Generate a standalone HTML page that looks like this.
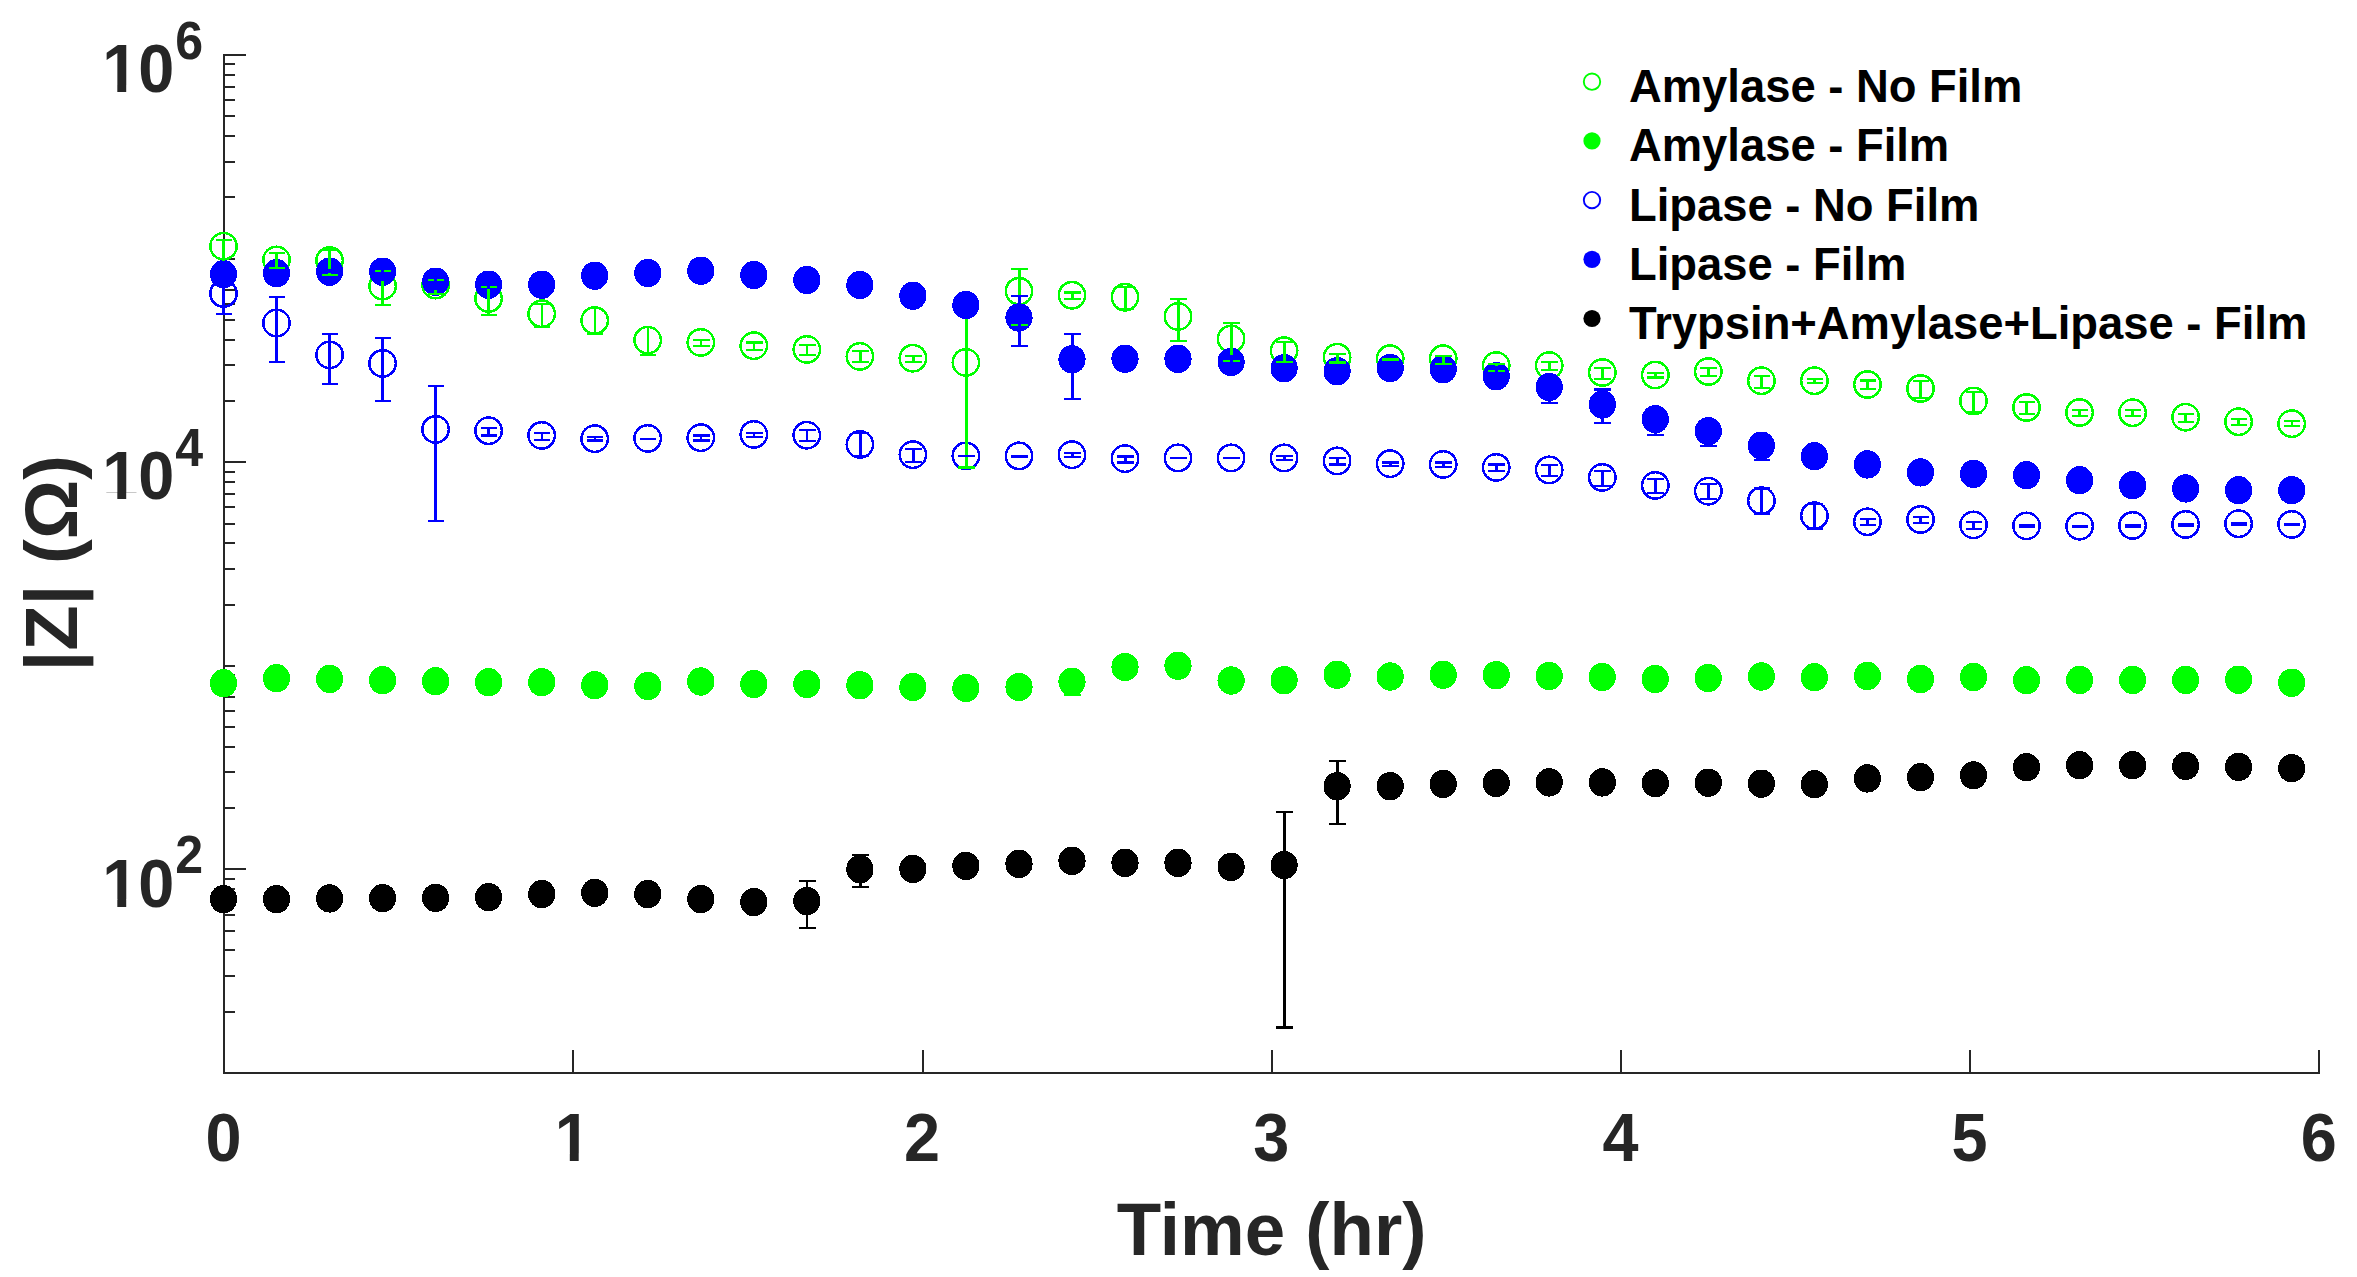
<!DOCTYPE html>
<html lang="en"><head><meta charset="utf-8"><title>|Z| vs Time</title>
<style>html,body{margin:0;padding:0;background:#fff}body{width:2357px;height:1277px;overflow:hidden}svg{display:block}</style></head>
<body>
<svg width="2357" height="1277" viewBox="0 0 2357 1277"><rect width="2357" height="1277" fill="#fff"/><g fill="#262626" stroke="none" shape-rendering="crispEdges"><rect x="223.1" y="54" width="2" height="1020.0"/><rect x="223.1" y="1072.0" width="2097.3" height="2"/><rect x="224.1" y="1072.0" width="11" height="2"/><rect x="224.1" y="1010.7" width="11" height="2"/><rect x="224.1" y="974.9" width="11" height="2"/><rect x="224.1" y="949.4" width="11" height="2"/><rect x="224.1" y="929.7" width="11" height="2"/><rect x="224.1" y="913.6" width="11" height="2"/><rect x="224.1" y="899.9" width="11" height="2"/><rect x="224.1" y="888.1" width="11" height="2"/><rect x="224.1" y="877.7" width="11" height="2"/><rect x="224.1" y="868.4" width="22" height="2"/><rect x="224.1" y="807.1" width="11" height="2"/><rect x="224.1" y="771.3" width="11" height="2"/><rect x="224.1" y="745.8" width="11" height="2"/><rect x="224.1" y="726.1" width="11" height="2"/><rect x="224.1" y="710.0" width="11" height="2"/><rect x="224.1" y="696.3" width="11" height="2"/><rect x="224.1" y="684.5" width="11" height="2"/><rect x="224.1" y="674.1" width="11" height="2"/><rect x="224.1" y="664.8" width="11" height="2"/><rect x="224.1" y="603.5" width="11" height="2"/><rect x="224.1" y="567.7" width="11" height="2"/><rect x="224.1" y="542.2" width="11" height="2"/><rect x="224.1" y="522.5" width="11" height="2"/><rect x="224.1" y="506.4" width="11" height="2"/><rect x="224.1" y="492.7" width="11" height="2"/><rect x="224.1" y="480.9" width="11" height="2"/><rect x="224.1" y="470.5" width="11" height="2"/><rect x="224.1" y="461.2" width="22" height="2"/><rect x="224.1" y="399.9" width="11" height="2"/><rect x="224.1" y="364.1" width="11" height="2"/><rect x="224.1" y="338.6" width="11" height="2"/><rect x="224.1" y="318.9" width="11" height="2"/><rect x="224.1" y="302.8" width="11" height="2"/><rect x="224.1" y="289.1" width="11" height="2"/><rect x="224.1" y="277.3" width="11" height="2"/><rect x="224.1" y="266.9" width="11" height="2"/><rect x="224.1" y="257.6" width="11" height="2"/><rect x="224.1" y="196.3" width="11" height="2"/><rect x="224.1" y="160.5" width="11" height="2"/><rect x="224.1" y="135.0" width="11" height="2"/><rect x="224.1" y="115.3" width="11" height="2"/><rect x="224.1" y="99.2" width="11" height="2"/><rect x="224.1" y="85.5" width="11" height="2"/><rect x="224.1" y="73.7" width="11" height="2"/><rect x="224.1" y="63.3" width="11" height="2"/><rect x="224.1" y="54.0" width="22" height="2"/><rect x="572.3" y="1050" width="2" height="23.0"/><rect x="921.5" y="1050" width="2" height="23.0"/><rect x="1270.8" y="1050" width="2" height="23.0"/><rect x="1620.0" y="1050" width="2" height="23.0"/><rect x="1969.2" y="1050" width="2" height="23.0"/><rect x="2318.4" y="1050" width="2" height="23.0"/></g><g shape-rendering="crispEdges"><g fill="none" stroke="#00ff00" stroke-width="2.5"><circle cx="223.5" cy="246.2" r="13.2"/><circle cx="276.5" cy="259.9" r="13.2"/><circle cx="329.6" cy="260.5" r="13.2"/><circle cx="382.6" cy="286.1" r="13.2"/><circle cx="435.6" cy="285.1" r="13.2"/><circle cx="488.6" cy="298.5" r="13.2"/><circle cx="541.7" cy="313.7" r="13.2"/><circle cx="594.7" cy="320.5" r="13.2"/><circle cx="647.7" cy="340.2" r="13.2"/><circle cx="700.8" cy="342.4" r="13.2"/><circle cx="753.8" cy="345.7" r="13.2"/><circle cx="806.8" cy="349.4" r="13.2"/><circle cx="859.9" cy="356.4" r="13.2"/><circle cx="912.9" cy="358.2" r="13.2"/><circle cx="965.9" cy="362.4" r="13.2"/><circle cx="1019.0" cy="291.2" r="13.2"/><circle cx="1072.0" cy="295.2" r="13.2"/><circle cx="1125.0" cy="297.2" r="13.2"/><circle cx="1178.0" cy="316.5" r="13.2"/><circle cx="1231.1" cy="338.9" r="13.2"/><circle cx="1284.1" cy="350.7" r="13.2"/><circle cx="1337.1" cy="357.2" r="13.2"/><circle cx="1390.2" cy="358.7" r="13.2"/><circle cx="1443.2" cy="358.7" r="13.2"/><circle cx="1496.2" cy="365.5" r="13.2"/><circle cx="1549.2" cy="365.5" r="13.2"/><circle cx="1602.3" cy="372.5" r="13.2"/><circle cx="1655.3" cy="375.0" r="13.2"/><circle cx="1708.3" cy="371.5" r="13.2"/><circle cx="1761.4" cy="380.7" r="13.2"/><circle cx="1814.4" cy="380.7" r="13.2"/><circle cx="1867.4" cy="384.5" r="13.2"/><circle cx="1920.5" cy="388.5" r="13.2"/><circle cx="1973.5" cy="401.0" r="13.2"/><circle cx="2026.5" cy="407.5" r="13.2"/><circle cx="2079.6" cy="412.5" r="13.2"/><circle cx="2132.6" cy="412.7" r="13.2"/><circle cx="2185.6" cy="417.2" r="13.2"/><circle cx="2238.6" cy="421.7" r="13.2"/><circle cx="2291.7" cy="423.7" r="13.2"/></g><g fill="#00ff00" stroke="none"><ellipse cx="223.5" cy="683.2" rx="13.6" ry="14.2"/><ellipse cx="276.5" cy="678.2" rx="13.6" ry="14.2"/><ellipse cx="329.6" cy="679.0" rx="13.6" ry="14.2"/><ellipse cx="382.6" cy="680.2" rx="13.6" ry="14.2"/><ellipse cx="435.6" cy="681.2" rx="13.6" ry="14.2"/><ellipse cx="488.6" cy="682.2" rx="13.6" ry="14.2"/><ellipse cx="541.7" cy="682.2" rx="13.6" ry="14.2"/><ellipse cx="594.7" cy="685.2" rx="13.6" ry="14.2"/><ellipse cx="647.7" cy="686.0" rx="13.6" ry="14.2"/><ellipse cx="700.8" cy="681.5" rx="13.6" ry="14.2"/><ellipse cx="753.8" cy="684.0" rx="13.6" ry="14.2"/><ellipse cx="806.8" cy="684.0" rx="13.6" ry="14.2"/><ellipse cx="859.9" cy="685.2" rx="13.6" ry="14.2"/><ellipse cx="912.9" cy="687.0" rx="13.6" ry="14.2"/><ellipse cx="965.9" cy="688.0" rx="13.6" ry="14.2"/><ellipse cx="1019.0" cy="687.0" rx="13.6" ry="14.2"/><ellipse cx="1072.0" cy="681.7" rx="13.6" ry="14.2"/><ellipse cx="1125.0" cy="667.0" rx="13.6" ry="14.2"/><ellipse cx="1178.0" cy="665.7" rx="13.6" ry="14.2"/><ellipse cx="1231.1" cy="680.5" rx="13.6" ry="14.2"/><ellipse cx="1284.1" cy="680.2" rx="13.6" ry="14.2"/><ellipse cx="1337.1" cy="674.7" rx="13.6" ry="14.2"/><ellipse cx="1390.2" cy="676.5" rx="13.6" ry="14.2"/><ellipse cx="1443.2" cy="674.7" rx="13.6" ry="14.2"/><ellipse cx="1496.2" cy="675.2" rx="13.6" ry="14.2"/><ellipse cx="1549.2" cy="676.0" rx="13.6" ry="14.2"/><ellipse cx="1602.3" cy="677.0" rx="13.6" ry="14.2"/><ellipse cx="1655.3" cy="679.0" rx="13.6" ry="14.2"/><ellipse cx="1708.3" cy="678.0" rx="13.6" ry="14.2"/><ellipse cx="1761.4" cy="676.5" rx="13.6" ry="14.2"/><ellipse cx="1814.4" cy="677.2" rx="13.6" ry="14.2"/><ellipse cx="1867.4" cy="676.0" rx="13.6" ry="14.2"/><ellipse cx="1920.5" cy="679.0" rx="13.6" ry="14.2"/><ellipse cx="1973.5" cy="677.0" rx="13.6" ry="14.2"/><ellipse cx="2026.5" cy="680.2" rx="13.6" ry="14.2"/><ellipse cx="2079.6" cy="680.0" rx="13.6" ry="14.2"/><ellipse cx="2132.6" cy="680.0" rx="13.6" ry="14.2"/><ellipse cx="2185.6" cy="680.0" rx="13.6" ry="14.2"/><ellipse cx="2238.6" cy="679.7" rx="13.6" ry="14.2"/><ellipse cx="2291.7" cy="682.7" rx="13.6" ry="14.2"/></g><g fill="none" stroke="#0000ff" stroke-width="2.5"><circle cx="223.5" cy="293.6" r="13.2"/><circle cx="276.5" cy="323.0" r="13.2"/><circle cx="329.6" cy="354.9" r="13.2"/><circle cx="382.6" cy="363.4" r="13.2"/><circle cx="435.6" cy="429.4" r="13.2"/><circle cx="488.6" cy="430.7" r="13.2"/><circle cx="541.7" cy="435.4" r="13.2"/><circle cx="594.7" cy="438.7" r="13.2"/><circle cx="647.7" cy="438.4" r="13.2"/><circle cx="700.8" cy="437.7" r="13.2"/><circle cx="753.8" cy="434.4" r="13.2"/><circle cx="806.8" cy="435.2" r="13.2"/><circle cx="859.9" cy="444.4" r="13.2"/><circle cx="912.9" cy="454.7" r="13.2"/><circle cx="965.9" cy="455.9" r="13.2"/><circle cx="1019.0" cy="455.9" r="13.2"/><circle cx="1072.0" cy="454.7" r="13.2"/><circle cx="1125.0" cy="458.6" r="13.2"/><circle cx="1178.0" cy="457.9" r="13.2"/><circle cx="1231.1" cy="457.9" r="13.2"/><circle cx="1284.1" cy="457.9" r="13.2"/><circle cx="1337.1" cy="460.9" r="13.2"/><circle cx="1390.2" cy="463.7" r="13.2"/><circle cx="1443.2" cy="464.4" r="13.2"/><circle cx="1496.2" cy="467.4" r="13.2"/><circle cx="1549.2" cy="469.9" r="13.2"/><circle cx="1602.3" cy="477.4" r="13.2"/><circle cx="1655.3" cy="485.4" r="13.2"/><circle cx="1708.3" cy="491.2" r="13.2"/><circle cx="1761.4" cy="500.7" r="13.2"/><circle cx="1814.4" cy="515.7" r="13.2"/><circle cx="1867.4" cy="521.7" r="13.2"/><circle cx="1920.5" cy="519.4" r="13.2"/><circle cx="1973.5" cy="524.9" r="13.2"/><circle cx="2026.5" cy="525.9" r="13.2"/><circle cx="2079.6" cy="526.2" r="13.2"/><circle cx="2132.6" cy="525.4" r="13.2"/><circle cx="2185.6" cy="524.4" r="13.2"/><circle cx="2238.6" cy="523.7" r="13.2"/><circle cx="2291.7" cy="524.4" r="13.2"/></g><g fill="#0000ff" stroke="none"><ellipse cx="223.5" cy="274.2" rx="13.6" ry="14.2"/><ellipse cx="276.5" cy="273.2" rx="13.6" ry="14.2"/><ellipse cx="329.6" cy="271.7" rx="13.6" ry="14.2"/><ellipse cx="382.6" cy="271.7" rx="13.6" ry="14.2"/><ellipse cx="435.6" cy="281.7" rx="13.6" ry="14.2"/><ellipse cx="488.6" cy="284.7" rx="13.6" ry="14.2"/><ellipse cx="541.7" cy="284.7" rx="13.6" ry="14.2"/><ellipse cx="594.7" cy="275.7" rx="13.6" ry="14.2"/><ellipse cx="647.7" cy="273.0" rx="13.6" ry="14.2"/><ellipse cx="700.8" cy="270.7" rx="13.6" ry="14.2"/><ellipse cx="753.8" cy="275.0" rx="13.6" ry="14.2"/><ellipse cx="806.8" cy="280.0" rx="13.6" ry="14.2"/><ellipse cx="859.9" cy="285.0" rx="13.6" ry="14.2"/><ellipse cx="912.9" cy="295.7" rx="13.6" ry="14.2"/><ellipse cx="965.9" cy="305.0" rx="13.6" ry="14.2"/><ellipse cx="1019.0" cy="317.5" rx="13.6" ry="14.2"/><ellipse cx="1072.0" cy="359.4" rx="13.6" ry="14.2"/><ellipse cx="1125.0" cy="358.7" rx="13.6" ry="14.2"/><ellipse cx="1178.0" cy="358.9" rx="13.6" ry="14.2"/><ellipse cx="1231.1" cy="361.9" rx="13.6" ry="14.2"/><ellipse cx="1284.1" cy="368.2" rx="13.6" ry="14.2"/><ellipse cx="1337.1" cy="371.2" rx="13.6" ry="14.2"/><ellipse cx="1390.2" cy="368.0" rx="13.6" ry="14.2"/><ellipse cx="1443.2" cy="369.2" rx="13.6" ry="14.2"/><ellipse cx="1496.2" cy="376.2" rx="13.6" ry="14.2"/><ellipse cx="1549.2" cy="387.0" rx="13.6" ry="14.2"/><ellipse cx="1602.3" cy="404.5" rx="13.6" ry="14.2"/><ellipse cx="1655.3" cy="419.2" rx="13.6" ry="14.2"/><ellipse cx="1708.3" cy="431.2" rx="13.6" ry="14.2"/><ellipse cx="1761.4" cy="445.7" rx="13.6" ry="14.2"/><ellipse cx="1814.4" cy="456.2" rx="13.6" ry="14.2"/><ellipse cx="1867.4" cy="464.4" rx="13.6" ry="14.2"/><ellipse cx="1920.5" cy="472.4" rx="13.6" ry="14.2"/><ellipse cx="1973.5" cy="473.9" rx="13.6" ry="14.2"/><ellipse cx="2026.5" cy="475.2" rx="13.6" ry="14.2"/><ellipse cx="2079.6" cy="480.2" rx="13.6" ry="14.2"/><ellipse cx="2132.6" cy="485.2" rx="13.6" ry="14.2"/><ellipse cx="2185.6" cy="488.4" rx="13.6" ry="14.2"/><ellipse cx="2238.6" cy="490.2" rx="13.6" ry="14.2"/><ellipse cx="2291.7" cy="490.2" rx="13.6" ry="14.2"/></g><g fill="#000000" stroke="none"><ellipse cx="223.5" cy="899.1" rx="13.6" ry="14.2"/><ellipse cx="276.5" cy="899.1" rx="13.6" ry="14.2"/><ellipse cx="329.6" cy="898.4" rx="13.6" ry="14.2"/><ellipse cx="382.6" cy="898.1" rx="13.6" ry="14.2"/><ellipse cx="435.6" cy="897.9" rx="13.6" ry="14.2"/><ellipse cx="488.6" cy="897.1" rx="13.6" ry="14.2"/><ellipse cx="541.7" cy="894.1" rx="13.6" ry="14.2"/><ellipse cx="594.7" cy="892.9" rx="13.6" ry="14.2"/><ellipse cx="647.7" cy="894.1" rx="13.6" ry="14.2"/><ellipse cx="700.8" cy="899.1" rx="13.6" ry="14.2"/><ellipse cx="753.8" cy="902.1" rx="13.6" ry="14.2"/><ellipse cx="806.8" cy="901.1" rx="13.6" ry="14.2"/><ellipse cx="859.9" cy="869.2" rx="13.6" ry="14.2"/><ellipse cx="912.9" cy="868.9" rx="13.6" ry="14.2"/><ellipse cx="965.9" cy="865.9" rx="13.6" ry="14.2"/><ellipse cx="1019.0" cy="863.9" rx="13.6" ry="14.2"/><ellipse cx="1072.0" cy="860.9" rx="13.6" ry="14.2"/><ellipse cx="1125.0" cy="862.9" rx="13.6" ry="14.2"/><ellipse cx="1178.0" cy="862.9" rx="13.6" ry="14.2"/><ellipse cx="1231.1" cy="866.9" rx="13.6" ry="14.2"/><ellipse cx="1284.1" cy="865.1" rx="13.6" ry="14.2"/><ellipse cx="1337.1" cy="786.2" rx="13.6" ry="14.2"/><ellipse cx="1390.2" cy="786.2" rx="13.6" ry="14.2"/><ellipse cx="1443.2" cy="783.9" rx="13.6" ry="14.2"/><ellipse cx="1496.2" cy="782.9" rx="13.6" ry="14.2"/><ellipse cx="1549.2" cy="782.4" rx="13.6" ry="14.2"/><ellipse cx="1602.3" cy="782.4" rx="13.6" ry="14.2"/><ellipse cx="1655.3" cy="783.2" rx="13.6" ry="14.2"/><ellipse cx="1708.3" cy="782.7" rx="13.6" ry="14.2"/><ellipse cx="1761.4" cy="783.7" rx="13.6" ry="14.2"/><ellipse cx="1814.4" cy="784.2" rx="13.6" ry="14.2"/><ellipse cx="1867.4" cy="778.4" rx="13.6" ry="14.2"/><ellipse cx="1920.5" cy="777.2" rx="13.6" ry="14.2"/><ellipse cx="1973.5" cy="775.2" rx="13.6" ry="14.2"/><ellipse cx="2026.5" cy="767.2" rx="13.6" ry="14.2"/><ellipse cx="2079.6" cy="765.2" rx="13.6" ry="14.2"/><ellipse cx="2132.6" cy="765.2" rx="13.6" ry="14.2"/><ellipse cx="2185.6" cy="765.9" rx="13.6" ry="14.2"/><ellipse cx="2238.6" cy="766.9" rx="13.6" ry="14.2"/><ellipse cx="2291.7" cy="768.2" rx="13.6" ry="14.2"/></g><g fill="#00ff00" stroke="none"><rect x="222.30" y="240.0" width="2.8" height="20.7"/><rect x="215.60" y="238.85" width="16.6" height="2.3"/><rect x="275.30" y="253.2" width="2.8" height="15.0"/><rect x="268.60" y="252.05" width="16.6" height="2.3"/><rect x="268.60" y="267.05" width="16.6" height="2.3"/><rect x="328.40" y="249.5" width="2.8" height="25.5"/><rect x="321.70" y="248.35" width="16.6" height="2.3"/><rect x="321.70" y="273.85" width="16.6" height="2.3"/><rect x="381.40" y="271.2" width="2.8" height="33.8"/><rect x="374.70" y="270.05" width="16.6" height="2.3"/><rect x="374.70" y="303.85" width="16.6" height="2.3"/><rect x="434.40" y="280.0" width="2.8" height="13.8"/><rect x="427.70" y="278.85" width="16.6" height="2.3"/><rect x="427.70" y="292.65" width="16.6" height="2.3"/><rect x="487.40" y="286.7" width="2.8" height="28.3"/><rect x="480.70" y="285.55" width="16.6" height="2.3"/><rect x="480.70" y="313.85" width="16.6" height="2.3"/><rect x="540.50" y="303.7" width="2.8" height="23.3"/><rect x="533.80" y="302.55" width="16.6" height="2.3"/><rect x="533.80" y="325.85" width="16.6" height="2.3"/><rect x="593.50" y="307.5" width="2.8" height="26.2"/><rect x="586.80" y="332.55" width="16.6" height="2.3"/><rect x="646.50" y="327.5" width="2.8" height="27.4"/><rect x="639.80" y="353.75" width="16.6" height="2.3"/><rect x="699.60" y="339.9" width="2.8" height="6.3"/><rect x="692.90" y="338.75" width="16.6" height="2.3"/><rect x="692.90" y="345.05" width="16.6" height="2.3"/><rect x="752.60" y="342.4" width="2.8" height="7.5"/><rect x="745.90" y="341.25" width="16.6" height="2.3"/><rect x="745.90" y="348.75" width="16.6" height="2.3"/><rect x="805.60" y="344.9" width="2.8" height="10.0"/><rect x="798.90" y="343.75" width="16.6" height="2.3"/><rect x="798.90" y="353.75" width="16.6" height="2.3"/><rect x="858.70" y="351.2" width="2.8" height="10.7"/><rect x="852.00" y="350.05" width="16.6" height="2.3"/><rect x="852.00" y="360.75" width="16.6" height="2.3"/><rect x="911.70" y="355.7" width="2.8" height="6.0"/><rect x="905.00" y="354.55" width="16.6" height="2.3"/><rect x="905.00" y="360.55" width="16.6" height="2.3"/><rect x="964.70" y="318.7" width="2.8" height="148.7"/><rect x="958.00" y="466.25" width="16.6" height="2.3"/><rect x="1017.80" y="268.7" width="2.8" height="56.3"/><rect x="1011.10" y="267.55" width="16.6" height="2.3"/><rect x="1011.10" y="323.85" width="16.6" height="2.3"/><rect x="1070.80" y="292.5" width="2.8" height="6.2"/><rect x="1064.10" y="291.35" width="16.6" height="2.3"/><rect x="1064.10" y="297.55" width="16.6" height="2.3"/><rect x="1123.80" y="287.0" width="2.8" height="21.7"/><rect x="1117.10" y="285.85" width="16.6" height="2.3"/><rect x="1117.10" y="307.55" width="16.6" height="2.3"/><rect x="1176.80" y="299.2" width="2.8" height="42.0"/><rect x="1170.10" y="298.05" width="16.6" height="2.3"/><rect x="1170.10" y="340.05" width="16.6" height="2.3"/><rect x="1229.90" y="323.0" width="2.8" height="38.2"/><rect x="1223.20" y="321.85" width="16.6" height="2.3"/><rect x="1223.20" y="360.05" width="16.6" height="2.3"/><rect x="1282.90" y="341.7" width="2.8" height="20.2"/><rect x="1276.20" y="340.55" width="16.6" height="2.3"/><rect x="1276.20" y="360.75" width="16.6" height="2.3"/><rect x="1335.90" y="353.7" width="2.8" height="8.8"/><rect x="1329.20" y="352.55" width="16.6" height="2.3"/><rect x="1329.20" y="361.35" width="16.6" height="2.3"/><rect x="1442.00" y="356.2" width="2.8" height="8.0"/><rect x="1435.30" y="355.05" width="16.6" height="2.3"/><rect x="1435.30" y="363.05" width="16.6" height="2.3"/><rect x="1495.00" y="363.7" width="2.8" height="7.0"/><rect x="1488.30" y="362.55" width="16.6" height="2.3"/><rect x="1488.30" y="369.55" width="16.6" height="2.3"/><rect x="1548.00" y="361.7" width="2.8" height="8.3"/><rect x="1541.30" y="360.55" width="16.6" height="2.3"/><rect x="1541.30" y="368.85" width="16.6" height="2.3"/><rect x="1601.10" y="368.0" width="2.8" height="10.7"/><rect x="1594.40" y="366.85" width="16.6" height="2.3"/><rect x="1594.40" y="377.55" width="16.6" height="2.3"/><rect x="1654.10" y="373.2" width="2.8" height="4.3"/><rect x="1647.40" y="372.05" width="16.6" height="2.3"/><rect x="1647.40" y="376.35" width="16.6" height="2.3"/><rect x="1707.10" y="368.0" width="2.8" height="8.2"/><rect x="1700.40" y="366.85" width="16.6" height="2.3"/><rect x="1700.40" y="375.05" width="16.6" height="2.3"/><rect x="1760.20" y="375.7" width="2.8" height="12.5"/><rect x="1753.50" y="374.55" width="16.6" height="2.3"/><rect x="1753.50" y="387.05" width="16.6" height="2.3"/><rect x="1813.20" y="378.7" width="2.8" height="4.5"/><rect x="1806.50" y="377.55" width="16.6" height="2.3"/><rect x="1806.50" y="382.05" width="16.6" height="2.3"/><rect x="1866.20" y="380.5" width="2.8" height="8.2"/><rect x="1859.50" y="379.35" width="16.6" height="2.3"/><rect x="1859.50" y="387.55" width="16.6" height="2.3"/><rect x="1919.30" y="381.0" width="2.8" height="17.2"/><rect x="1912.60" y="379.85" width="16.6" height="2.3"/><rect x="1912.60" y="397.05" width="16.6" height="2.3"/><rect x="1972.30" y="391.9" width="2.8" height="20.7"/><rect x="1965.60" y="390.75" width="16.6" height="2.3"/><rect x="1965.60" y="411.45" width="16.6" height="2.3"/><rect x="2025.30" y="402.0" width="2.8" height="11.7"/><rect x="2018.60" y="400.85" width="16.6" height="2.3"/><rect x="2018.60" y="412.55" width="16.6" height="2.3"/><rect x="2078.40" y="410.0" width="2.8" height="6.2"/><rect x="2071.70" y="408.85" width="16.6" height="2.3"/><rect x="2071.70" y="415.05" width="16.6" height="2.3"/><rect x="2131.40" y="410.0" width="2.8" height="6.2"/><rect x="2124.70" y="408.85" width="16.6" height="2.3"/><rect x="2124.70" y="415.05" width="16.6" height="2.3"/><rect x="2184.40" y="413.7" width="2.8" height="8.0"/><rect x="2177.70" y="412.55" width="16.6" height="2.3"/><rect x="2177.70" y="420.55" width="16.6" height="2.3"/><rect x="2237.40" y="419.2" width="2.8" height="5.7"/><rect x="2230.70" y="418.05" width="16.6" height="2.3"/><rect x="2230.70" y="423.75" width="16.6" height="2.3"/><rect x="2290.50" y="421.2" width="2.8" height="5.0"/><rect x="2283.80" y="420.05" width="16.6" height="2.3"/><rect x="2283.80" y="425.05" width="16.6" height="2.3"/></g><g fill="#00ff00" stroke="none"><rect x="1382.30" y="357.5" width="16.6" height="3.5"/></g><g fill="#00ff00" stroke="none"><rect x="1070.80" y="672.5" width="2.8" height="22.5"/><rect x="1064.10" y="671.35" width="16.6" height="2.3"/><rect x="1064.10" y="693.85" width="16.6" height="2.3"/></g><g fill="#0000ff" stroke="none"><rect x="222.30" y="277.5" width="2.8" height="36.7"/><rect x="215.60" y="276.35" width="16.6" height="2.3"/><rect x="215.60" y="313.05" width="16.6" height="2.3"/><rect x="275.30" y="297.0" width="2.8" height="64.9"/><rect x="268.60" y="295.85" width="16.6" height="2.3"/><rect x="268.60" y="360.75" width="16.6" height="2.3"/><rect x="328.40" y="334.2" width="2.8" height="50.0"/><rect x="321.70" y="333.05" width="16.6" height="2.3"/><rect x="321.70" y="383.05" width="16.6" height="2.3"/><rect x="381.40" y="337.9" width="2.8" height="63.0"/><rect x="374.70" y="336.75" width="16.6" height="2.3"/><rect x="374.70" y="399.75" width="16.6" height="2.3"/><rect x="434.40" y="385.7" width="2.8" height="135.4"/><rect x="427.70" y="384.55" width="16.6" height="2.3"/><rect x="427.70" y="519.95" width="16.6" height="2.3"/><rect x="487.40" y="427.9" width="2.8" height="7.5"/><rect x="480.70" y="426.75" width="16.6" height="2.3"/><rect x="480.70" y="434.25" width="16.6" height="2.3"/><rect x="540.50" y="432.9" width="2.8" height="7.0"/><rect x="533.80" y="431.75" width="16.6" height="2.3"/><rect x="533.80" y="438.75" width="16.6" height="2.3"/><rect x="593.50" y="436.9" width="2.8" height="3.5"/><rect x="586.80" y="435.75" width="16.6" height="2.3"/><rect x="586.80" y="439.25" width="16.6" height="2.3"/><rect x="699.60" y="435.4" width="2.8" height="5.0"/><rect x="692.90" y="434.25" width="16.6" height="2.3"/><rect x="692.90" y="439.25" width="16.6" height="2.3"/><rect x="752.60" y="432.9" width="2.8" height="4.0"/><rect x="745.90" y="431.75" width="16.6" height="2.3"/><rect x="745.90" y="435.75" width="16.6" height="2.3"/><rect x="805.60" y="429.9" width="2.8" height="11.3"/><rect x="798.90" y="428.75" width="16.6" height="2.3"/><rect x="798.90" y="440.05" width="16.6" height="2.3"/><rect x="858.70" y="433.2" width="2.8" height="22.9"/><rect x="852.00" y="432.05" width="16.6" height="2.3"/><rect x="852.00" y="454.95" width="16.6" height="2.3"/><rect x="911.70" y="448.7" width="2.8" height="13.2"/><rect x="905.00" y="447.55" width="16.6" height="2.3"/><rect x="905.00" y="460.75" width="16.6" height="2.3"/><rect x="1070.80" y="452.9" width="2.8" height="4.0"/><rect x="1064.10" y="451.75" width="16.6" height="2.3"/><rect x="1064.10" y="455.75" width="16.6" height="2.3"/><rect x="1123.80" y="456.6" width="2.8" height="5.8"/><rect x="1117.10" y="455.45" width="16.6" height="2.3"/><rect x="1117.10" y="461.25" width="16.6" height="2.3"/><rect x="1282.90" y="456.1" width="2.8" height="3.8"/><rect x="1276.20" y="454.95" width="16.6" height="2.3"/><rect x="1276.20" y="458.75" width="16.6" height="2.3"/><rect x="1335.90" y="457.9" width="2.8" height="6.5"/><rect x="1329.20" y="456.75" width="16.6" height="2.3"/><rect x="1329.20" y="463.25" width="16.6" height="2.3"/><rect x="1389.00" y="462.4" width="2.8" height="3.3"/><rect x="1382.30" y="461.25" width="16.6" height="2.3"/><rect x="1382.30" y="464.55" width="16.6" height="2.3"/><rect x="1442.00" y="462.4" width="2.8" height="4.5"/><rect x="1435.30" y="461.25" width="16.6" height="2.3"/><rect x="1435.30" y="465.75" width="16.6" height="2.3"/><rect x="1495.00" y="464.4" width="2.8" height="6.8"/><rect x="1488.30" y="463.25" width="16.6" height="2.3"/><rect x="1488.30" y="470.05" width="16.6" height="2.3"/><rect x="1548.00" y="464.9" width="2.8" height="11.3"/><rect x="1541.30" y="463.75" width="16.6" height="2.3"/><rect x="1541.30" y="475.05" width="16.6" height="2.3"/><rect x="1601.10" y="471.1" width="2.8" height="15.1"/><rect x="1594.40" y="469.95" width="16.6" height="2.3"/><rect x="1594.40" y="485.05" width="16.6" height="2.3"/><rect x="1654.10" y="479.2" width="2.8" height="13.9"/><rect x="1647.40" y="478.05" width="16.6" height="2.3"/><rect x="1647.40" y="491.95" width="16.6" height="2.3"/><rect x="1707.10" y="484.0" width="2.8" height="15.1"/><rect x="1700.40" y="482.85" width="16.6" height="2.3"/><rect x="1700.40" y="497.95" width="16.6" height="2.3"/><rect x="1760.20" y="488.5" width="2.8" height="25.8"/><rect x="1753.50" y="487.35" width="16.6" height="2.3"/><rect x="1753.50" y="513.15" width="16.6" height="2.3"/><rect x="1813.20" y="504.2" width="2.8" height="24.5"/><rect x="1806.50" y="503.05" width="16.6" height="2.3"/><rect x="1806.50" y="527.55" width="16.6" height="2.3"/><rect x="1866.20" y="518.7" width="2.8" height="6.2"/><rect x="1859.50" y="517.55" width="16.6" height="2.3"/><rect x="1859.50" y="523.75" width="16.6" height="2.3"/><rect x="1919.30" y="516.9" width="2.8" height="6.0"/><rect x="1912.60" y="515.75" width="16.6" height="2.3"/><rect x="1912.60" y="521.75" width="16.6" height="2.3"/><rect x="1972.30" y="521.9" width="2.8" height="6.8"/><rect x="1965.60" y="520.75" width="16.6" height="2.3"/><rect x="1965.60" y="527.55" width="16.6" height="2.3"/></g><g fill="#0000ff" stroke="none"><rect x="639.80" y="437.7" width="16.6" height="2.2"/><rect x="958.00" y="454.7" width="16.6" height="2.7"/><rect x="1011.10" y="454.7" width="16.6" height="3.2"/><rect x="1170.10" y="457.1" width="16.6" height="2.3"/><rect x="1223.20" y="457.1" width="16.6" height="1.8"/><rect x="2018.60" y="524.2" width="16.6" height="3.7"/><rect x="2071.70" y="524.9" width="16.6" height="3.0"/><rect x="2124.70" y="523.7" width="16.6" height="4.2"/><rect x="2177.70" y="523.2" width="16.6" height="3.5"/><rect x="2230.70" y="521.7" width="16.6" height="4.0"/><rect x="2283.80" y="523.2" width="16.6" height="2.5"/></g><g fill="#0000ff" stroke="none"><rect x="328.40" y="269.2" width="2.8" height="3.8"/><rect x="381.40" y="264.0" width="2.8" height="15.5"/><rect x="374.70" y="262.85" width="16.6" height="2.3"/><rect x="374.70" y="278.35" width="16.6" height="2.3"/><rect x="434.40" y="275.0" width="2.8" height="15.0"/><rect x="427.70" y="273.85" width="16.6" height="2.3"/><rect x="487.40" y="282.0" width="2.8" height="7.2"/><rect x="1017.80" y="295.7" width="2.8" height="50.5"/><rect x="1011.10" y="294.55" width="16.6" height="2.3"/><rect x="1011.10" y="345.05" width="16.6" height="2.3"/><rect x="1070.80" y="334.2" width="2.8" height="64.7"/><rect x="1064.10" y="333.05" width="16.6" height="2.3"/><rect x="1064.10" y="397.75" width="16.6" height="2.3"/><rect x="1229.90" y="356.2" width="2.8" height="11.2"/><rect x="1223.20" y="355.05" width="16.6" height="2.3"/><rect x="1223.20" y="366.25" width="16.6" height="2.3"/><rect x="1495.00" y="367.5" width="2.8" height="17.5"/><rect x="1488.30" y="366.35" width="16.6" height="2.3"/><rect x="1488.30" y="383.85" width="16.6" height="2.3"/><rect x="1548.00" y="380.0" width="2.8" height="22.7"/><rect x="1541.30" y="378.85" width="16.6" height="2.3"/><rect x="1541.30" y="401.55" width="16.6" height="2.3"/><rect x="1601.10" y="389.5" width="2.8" height="33.4"/><rect x="1594.40" y="388.35" width="16.6" height="2.3"/><rect x="1594.40" y="421.75" width="16.6" height="2.3"/><rect x="1654.10" y="412.5" width="2.8" height="22.4"/><rect x="1647.40" y="411.35" width="16.6" height="2.3"/><rect x="1647.40" y="433.75" width="16.6" height="2.3"/><rect x="1707.10" y="424.2" width="2.8" height="21.5"/><rect x="1700.40" y="423.05" width="16.6" height="2.3"/><rect x="1700.40" y="444.55" width="16.6" height="2.3"/><rect x="1760.20" y="438.7" width="2.8" height="21.2"/><rect x="1753.50" y="437.55" width="16.6" height="2.3"/><rect x="1753.50" y="458.75" width="16.6" height="2.3"/></g><g fill="#000000" stroke="none"><rect x="805.60" y="881.1" width="2.8" height="46.8"/><rect x="798.90" y="879.95" width="16.6" height="2.3"/><rect x="798.90" y="926.75" width="16.6" height="2.3"/><rect x="858.70" y="854.9" width="2.8" height="32.0"/><rect x="852.00" y="853.75" width="16.6" height="2.3"/><rect x="852.00" y="885.75" width="16.6" height="2.3"/><rect x="1282.90" y="812.0" width="2.8" height="215.4"/><rect x="1276.20" y="810.85" width="16.6" height="2.3"/><rect x="1276.20" y="1026.25" width="16.6" height="2.3"/><rect x="1335.90" y="761.2" width="2.8" height="62.5"/><rect x="1329.20" y="760.05" width="16.6" height="2.3"/><rect x="1329.20" y="822.55" width="16.6" height="2.3"/></g></g><defs><clipPath id="c1s" clipPathUnits="userSpaceOnUse"><path clip-rule="evenodd" d="M-60,-90H120V40H-60Z M2.16,-7.21H16.17V3H2.16Z M25.68,-7.21H39.08V3H25.68Z"/></clipPath><clipPath id="c1m" clipPathUnits="userSpaceOnUse"><path clip-rule="evenodd" d="M-60,-90H120V40H-60Z M-17.11,-7.21H-3.10V3H-17.11Z M6.41,-7.21H19.80V3H6.41Z"/></clipPath></defs><g fill="#262626" style="font-family:'Liberation Sans',Arial,Helvetica,sans-serif;font-weight:bold"><text transform="translate(223.5 1161.0) scale(0.935 1)" text-anchor="middle" font-size="69.3">0</text><text transform="translate(572.7 1161.0) scale(0.935 1)" text-anchor="middle" font-size="69.3" clip-path="url(#c1m)">1</text><text transform="translate(921.9 1161.0) scale(0.935 1)" text-anchor="middle" font-size="69.3">2</text><text transform="translate(1271.2 1161.0) scale(0.935 1)" text-anchor="middle" font-size="69.3">3</text><text transform="translate(1620.4 1161.0) scale(0.935 1)" text-anchor="middle" font-size="69.3">4</text><text transform="translate(1969.6 1161.0) scale(0.935 1)" text-anchor="middle" font-size="69.3">5</text><text transform="translate(2318.8 1161.0) scale(0.935 1)" text-anchor="middle" font-size="69.3">6</text><text transform="translate(102.2 92.2) scale(0.935 1)" text-anchor="start" font-size="69.3" clip-path="url(#c1s)">10</text><text transform="translate(175.2 58.800000000000004) scale(0.945 1)" text-anchor="start" font-size="53.0">6</text><text transform="translate(102.2 499.4) scale(0.935 1)" text-anchor="start" font-size="69.3" clip-path="url(#c1s)">10</text><text transform="translate(175.2 466.0) scale(0.945 1)" text-anchor="start" font-size="53.0">4</text><text transform="translate(102.2 906.6) scale(0.935 1)" text-anchor="start" font-size="69.3" clip-path="url(#c1s)">10</text><text transform="translate(175.2 873.2) scale(0.945 1)" text-anchor="start" font-size="53.0">2</text><text transform="translate(1271.6 1254.8) scale(0.97 1)" text-anchor="middle" font-size="75.0">Time (hr)</text><text transform="translate(76.8 563.3) rotate(-90) scale(0.99 1)" text-anchor="middle" font-size="75.0">|Z| (&#937;)</text></g><g style="font-family:'Liberation Sans',Arial,Helvetica,sans-serif;font-weight:bold"><circle cx="1592" cy="81.7" r="8.2" fill="none" stroke="#00ff00" stroke-width="1.9"/><text transform="translate(1629.0 102.1) scale(0.9654 1)" text-anchor="start" font-size="47.0" fill="#000">Amylase - No Film</text><circle cx="1592" cy="140.9" r="8.6" fill="#00ff00"/><text transform="translate(1629.0 161.3) scale(0.9654 1)" text-anchor="start" font-size="47.0" fill="#000">Amylase - Film</text><circle cx="1592" cy="200.1" r="8.2" fill="none" stroke="#0000ff" stroke-width="1.9"/><text transform="translate(1629.0 220.5) scale(0.9654 1)" text-anchor="start" font-size="47.0" fill="#000">Lipase - No Film</text><circle cx="1592" cy="259.3" r="8.6" fill="#0000ff"/><text transform="translate(1629.0 279.7) scale(0.9654 1)" text-anchor="start" font-size="47.0" fill="#000">Lipase - Film</text><circle cx="1592" cy="318.5" r="8.6" fill="#000000"/><text transform="translate(1629.0 338.9) scale(0.9654 1)" text-anchor="start" font-size="47.0" fill="#000">Trypsin+Amylase+Lipase - Film</text></g></svg>
</body></html>
